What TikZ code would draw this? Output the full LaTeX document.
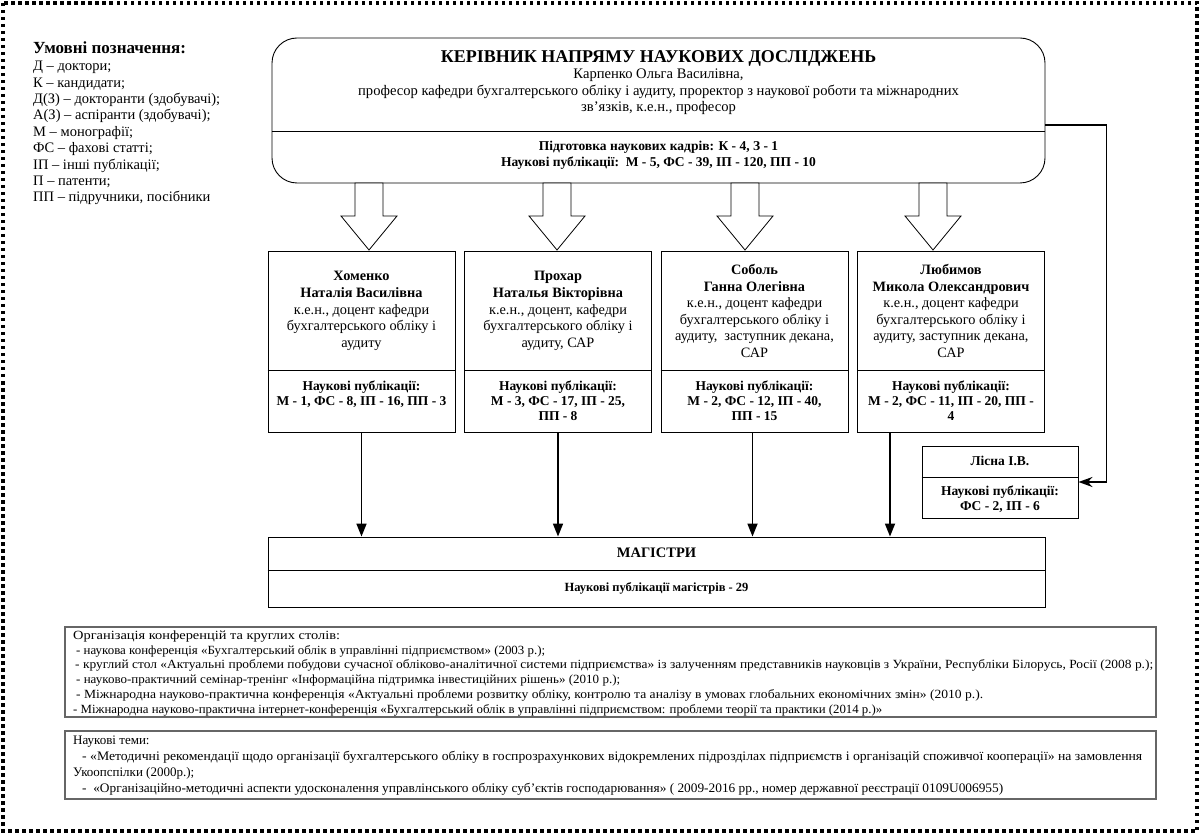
\documentclass[tikz,border=0pt]{standalone}
\usepackage{fontspec}
\setmainfont{Liberation Serif}
\usetikzlibrary{arrows.meta,positioning}

\definecolor{framegray}{gray}{0.4}
\newcommand{\fitline}[2]{\resizebox{#1}{\height}{#2}}

\tikzset{
  box/.style={draw, line width=0.9pt, inner sep=0pt},
  txt/.style={inner sep=0pt, align=center, font=\fontsize{14.3}{16.6}\selectfont},
  pub/.style={inner sep=0pt, align=center, font=\fontsize{13.5}{14.6}\selectfont\bfseries},
  arr/.style={line width=1.7pt, -{Triangle[length=13pt,width=10pt]}},
  hollow/.style={draw, line width=0.8pt, fill=white},
  notebox/.style={draw=framegray, line width=1.2pt, inner sep=0pt, minimum width=1091pt},
  notetxt/.style={inner sep=0pt, align=left, anchor=north west},
}

\begin{document}
\begin{tikzpicture}[x=1pt, y=-1pt]
  \useasboundingbox (0,0) rectangle (1200,834);
  % рамка
  \draw[line width=3.5pt, dash pattern=on 3.5pt off 3.5pt] (3,3) rectangle (1197,831);

  % умовні позначення
  \node[anchor=west, inner sep=0pt, font=\fontsize{17}{20}\selectfont\bfseries] (legtitle) at (33,48) {Умовні позначення:};
  \node[anchor=north west, inner sep=0pt, align=left, font=\fontsize{14.5}{16.4}\selectfont] (legend) at (33,61) {Д – доктори;\\К – кандидати;\\Д(З) – докторанти (здобувачі);\\А(З) – аспіранти (здобувачі);\\М – монографії;\\ФС – фахові статті;\\ІП – інші публікації;\\П – патенти;\\ПП – підручники, посібники};

  % керівник
  \node[box, rounded corners=25pt, minimum width=773pt, minimum height=145pt] (head) at (658.5,110.5) {};
  \draw[line width=0.9pt] (head.west |- 0,131) -- (head.east |- 0,131);
  \node[inner sep=0pt, font=\fontsize{18}{20}\selectfont\bfseries] (headtitle) at (658.5,58) {КЕРІВНИК НАПРЯМУ НАУКОВИХ ДОСЛІДЖЕНЬ};
  \node[txt, font=\fontsize{14.6}{16.5}\selectfont] (headname) at (658.5,92) {Карпенко Ольга Василівна,\\професор кафедри бухгалтерського обліку і аудиту, проректор з наукової роботи та міжнародних\\зв’язків, к.е.н., професор};
  \node[pub, font=\fontsize{13.5}{16}\selectfont\bfseries] (headpub) at (658.5,155) {Підготовка наукових кадрів: К - 4, З - 1\\Наукові публікації:\ \ М - 5, ФС - 39, ІП - 120, ПП - 10};

  % порожнисті стрілки
  \foreach \x in {369,557,745,933}
    \draw[hollow] (\x-14,183) -- (\x+14,183) -- (\x+14,216) -- (\x+28,216) -- (\x,250) -- (\x-28,216) -- (\x-14,216) -- cycle;

  % викладачі
  \foreach \n/\cx/\info/\pubs in {
      p1/361.5/{\textbf{Хоменко}\\\textbf{Наталія Василівна}\\к.е.н., доцент кафедри\\бухгалтерського обліку і\\аудиту}/{Наукові публікації:\\М - 1, ФС - 8, ІП - 16, ПП - 3},
      p2/558/{\textbf{Прохар}\\\textbf{Наталья Вікторівна}\\к.е.н., доцент, кафедри\\бухгалтерського обліку і\\аудиту, САР}/{Наукові публікації:\\М - 3, ФС - 17, ІП - 25,\\ПП - 8},
      p3/754.5/{\textbf{Соболь}\\\textbf{Ганна Олегівна}\\к.е.н., доцент кафедри\\бухгалтерського обліку і\\аудиту,\ \ заступник декана,\\САР}/{Наукові публікації:\\М - 2, ФС - 12, ІП - 40,\\ПП - 15},
      p4/951/{\textbf{Любимов}\\\textbf{Микола Олександрович}\\к.е.н., доцент кафедри\\бухгалтерського обліку і\\аудиту, заступник декана,\\САР}/{Наукові публікації:\\М - 2, ФС - 11, ІП - 20, ПП -\\4}} {
    \node[box, minimum width=187pt, minimum height=181pt] (\n) at (\cx,341.5) {};
    \draw[line width=0.9pt] (\n.west |- 0,370) -- (\n.east |- 0,370);
    \node[txt] (\n info) at (\cx,311) {\info};
    \node[pub, anchor=north] (\n pub) at (\cx,381) {\pubs};
  }

  % Лісна
  \node[box, minimum width=156pt, minimum height=72pt] (lisna) at (1000,482) {};
  \draw[line width=0.9pt] (lisna.west |- 0,477) -- (lisna.east |- 0,477);
  \node[pub] (lisnaname) at (1000,461) {Лісна І.В.};
  \node[pub] (lisnapub) at (1000,499.5) {Наукові публікації:\\ФС - 2, ІП - 6};
  \draw[line width=1.7pt, -{Stealth[length=14pt,width=10pt]}] ([yshift=-14.5pt]head.east) -- ++(61,0) |- (lisna.east);

  % магістри
  \node[box, minimum width=777pt, minimum height=70pt] (mag) at (656.5,572) {};
  \draw[line width=0.9pt] (mag.west |- 0,570) -- (mag.east |- 0,570);
  \node[inner sep=0pt, font=\fontsize{14.5}{16}\selectfont\bfseries] (magtitle) at (656.5,553) {МАГІСТРИ};
  \node[inner sep=0pt, font=\fontsize{12.5}{14}\selectfont\bfseries] (magpub) at (656.5,588) {Наукові публікації магістрів - 29};

  \draw[arr] (p1.south) -- (p1.south |- mag.north);
  \draw[arr] (p2.south) -- (p2.south |- mag.north);
  \draw[arr] ([xshift=-2pt]p3.south) -- ([xshift=-2pt]p3.south |- mag.north);
  \draw[arr] ([xshift=-61pt]p4.south) -- ([xshift=-61pt]p4.south |- mag.north);

  % конференції
  \node[notebox, minimum height=90pt] (confbox) at (610.5,672) {};
  \node[notetxt, font=\fontsize{12.5}{14.8}\selectfont] (conf) at (73,630.5) {\fitline{267pt}{Організація конференцій та круглих столів:}\\
    \hspace{3pt}\fitline{469pt}{- наукова конференція «Бухгалтерський облік в управлінні підприємством» (2003 р.);}\\
    \hspace{2pt}\fitline{1078pt}{- круглий стол «Актуальні проблеми побудови сучасної обліково-аналітичної системи підприємства» із залученням представників науковців з України, Республіки Білорусь, Росії (2008 р.);}\\
    \hspace{3pt}\fitline{544pt}{- науково-практичний семінар-тренінг «Інформаційна підтримка інвестиційних рішень» (2010 р.);}\\
    \hspace{3pt}\fitline{907pt}{- Міжнародна науково-практична конференція «Актуальні проблеми розвитку обліку, контролю та аналізу в умовах глобальних економічних змін» (2010 р.).}\\
    \fitline{809pt}{- Міжнародна науково-практична інтернет-конференція «Бухгалтерський облік в управлінні підприємством: проблеми теорії та практики (2014 р.)»}};

  % наукові теми
  \node[notebox, minimum height=68pt] (themebox) at (610.5,765) {};
  \node[notetxt, font=\fontsize{13}{16.2}\selectfont] (themes) at (73,735.5) {Наукові теми:\\
    \hspace{9pt}\fitline{1060pt}{- «Методичні рекомендації щодо організації бухгалтерського обліку в госпрозрахункових відокремлених підрозділах підприємств і організацій споживчої кооперації» на замовлення}\\
    Укоопспілки (2000р.);\\
    \hspace{9pt}\fitline{921pt}{-\ \ «Організаційно-методичні аспекти удосконалення управлінського обліку суб'єктів господарювання» ( 2009-2016 рр., номер державної реєстрації 0109U006955)}};
\end{tikzpicture}
\end{document}
